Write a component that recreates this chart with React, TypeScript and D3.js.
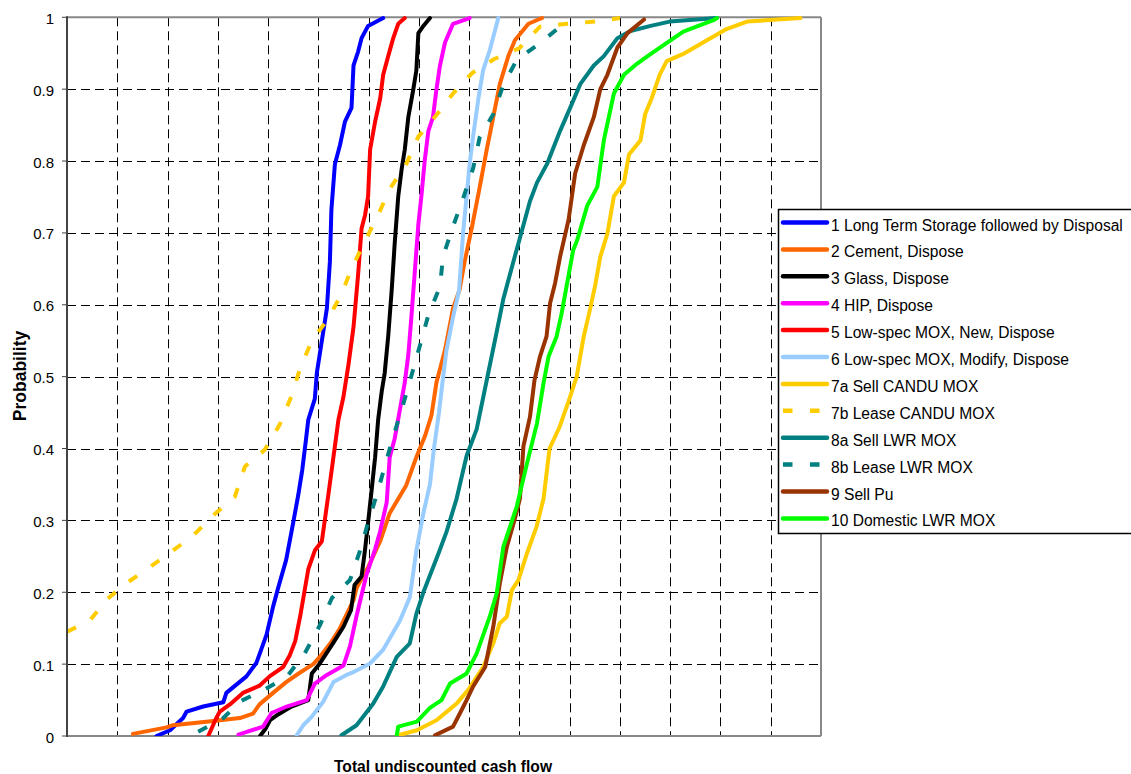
import React from "react";
import * as d3 from "d3";

// x in grid units of "Total undiscounted cash flow" (axis has no labels), y = cumulative probability
const s1: [number, number][] = [[1.78,0],[2.05,0.008],[2.31,0.025],[2.38,0.034],[2.71,0.041],[3.11,0.047],[3.17,0.06],[3.57,0.083],[3.77,0.102],[3.97,0.141],[4.1,0.18],[4.2,0.206],[4.36,0.245],[4.5,0.297],[4.6,0.335],[4.68,0.37],[4.75,0.41],[4.8,0.44],[4.93,0.469],[4.97,0.505],[5.07,0.55],[5.17,0.595],[5.23,0.66],[5.26,0.732],[5.33,0.796],[5.43,0.822],[5.53,0.855],[5.66,0.874],[5.7,0.933],[5.79,0.952],[5.86,0.971],[5.99,0.988],[6.29,0.999]];
const s2: [number, number][] = [[1.31,0.003],[1.98,0.012],[2.11,0.015],[2.91,0.021],[3.44,0.025],[3.7,0.031],[3.83,0.044],[4.1,0.06],[4.36,0.075],[4.63,0.088],[4.9,0.1],[5.03,0.11],[5.25,0.13],[5.43,0.15],[5.7,0.189],[5.76,0.206],[5.99,0.235],[6.23,0.271],[6.42,0.31],[6.75,0.349],[6.95,0.388],[7.12,0.417],[7.25,0.446],[7.35,0.492],[7.52,0.537],[7.68,0.595],[7.81,0.621],[7.91,0.66],[8.05,0.706],[8.2,0.76],[8.35,0.816],[8.48,0.861],[8.61,0.907],[8.78,0.946],[8.91,0.968],[9.18,0.991],[9.45,0.999]];
const s3: [number, number][] = [[3.84,0],[3.95,0.01],[4.04,0.022],[4.2,0.03],[4.44,0.04],[4.8,0.05],[4.87,0.087],[5.03,0.101],[5.3,0.13],[5.5,0.152],[5.65,0.175],[5.72,0.21],[5.86,0.222],[5.93,0.26],[5.99,0.297],[6.06,0.342],[6.13,0.388],[6.19,0.44],[6.26,0.479],[6.32,0.505],[6.39,0.556],[6.46,0.621],[6.52,0.686],[6.59,0.751],[6.66,0.79],[6.72,0.816],[6.79,0.861],[6.89,0.9],[6.95,0.926],[6.99,0.978],[7.09,0.988],[7.22,0.999]];
const s4: [number, number][] = [[3.41,0.002],[3.9,0.013],[4.07,0.032],[4.37,0.041],[4.77,0.05],[4.93,0.073],[5.17,0.085],[5.5,0.098],[5.63,0.125],[5.76,0.167],[5.96,0.225],[6.13,0.26],[6.23,0.285],[6.36,0.325],[6.42,0.388],[6.52,0.414],[6.62,0.453],[6.72,0.492],[6.79,0.53],[6.85,0.582],[6.92,0.647],[6.99,0.712],[7.05,0.751],[7.12,0.803],[7.19,0.842],[7.28,0.861],[7.35,0.9],[7.42,0.933],[7.52,0.965],[7.68,0.991],[8.01,0.999]];
const s5: [number, number][] = [[2.81,0],[2.97,0.025],[3.04,0.034],[3.24,0.044],[3.5,0.06],[3.83,0.07],[4.03,0.083],[4.3,0.096],[4.43,0.112],[4.54,0.132],[4.64,0.167],[4.8,0.232],[4.93,0.258],[5.07,0.271],[5.2,0.336],[5.3,0.388],[5.4,0.44],[5.5,0.472],[5.6,0.517],[5.7,0.569],[5.79,0.641],[5.86,0.706],[5.93,0.725],[5.99,0.751],[6.03,0.816],[6.13,0.855],[6.23,0.887],[6.29,0.92],[6.39,0.946],[6.49,0.971],[6.59,0.991],[6.72,0.999]];
const s6: [number, number][] = [[4.57,0.001],[4.7,0.015],[4.87,0.027],[5.1,0.048],[5.3,0.075],[5.56,0.085],[5.7,0.089],[6.03,0.101],[6.29,0.12],[6.62,0.16],[6.82,0.193],[6.95,0.258],[7.09,0.31],[7.22,0.35],[7.3,0.4],[7.4,0.45],[7.48,0.498],[7.55,0.537],[7.68,0.583],[7.8,0.62],[7.88,0.7],[7.95,0.751],[8.01,0.796],[8.08,0.835],[8.18,0.885],[8.28,0.927],[8.41,0.954],[8.58,0.999]];
const s7a: [number, number][] = [[6.59,0.001],[6.96,0.008],[7.35,0.022],[7.75,0.045],[7.98,0.064],[8.28,0.096],[8.48,0.129],[8.61,0.157],[8.75,0.166],[8.85,0.203],[8.98,0.217],[9.15,0.254],[9.34,0.291],[9.48,0.33],[9.6,0.4],[9.8,0.43],[10.0,0.47],[10.14,0.5],[10.28,0.556],[10.41,0.595],[10.51,0.628],[10.61,0.667],[10.75,0.699],[10.88,0.751],[11.08,0.77],[11.18,0.809],[11.41,0.829],[11.5,0.865],[11.63,0.887],[11.79,0.92],[11.93,0.939],[12.26,0.949],[12.73,0.968],[13.13,0.984],[13.53,0.994],[14.59,0.999]];
const s7b: [number, number][] = [[0,0.145],[0.46,0.161],[0.79,0.19],[1.19,0.213],[1.65,0.235],[2.05,0.255],[2.51,0.279],[2.91,0.307],[3.34,0.333],[3.54,0.375],[3.93,0.398],[4.23,0.433],[4.46,0.472],[4.64,0.512],[4.87,0.55],[5.2,0.581],[5.46,0.615],[5.66,0.65],[5.93,0.689],[6.19,0.725],[6.42,0.761],[6.75,0.796],[6.99,0.834],[7.35,0.864],[7.68,0.894],[8.07,0.923],[8.5,0.942],[9.0,0.957],[9.41,0.987],[9.95,0.991],[10.5,0.994],[11.0,0.999]];
const s8a: [number, number][] = [[5.46,0.001],[5.76,0.015],[6.09,0.045],[6.29,0.069],[6.56,0.11],[6.82,0.129],[6.95,0.17],[7.09,0.2],[7.39,0.254],[7.55,0.284],[7.75,0.33],[7.95,0.39],[8.15,0.427],[8.35,0.495],[8.55,0.563],[8.68,0.608],[8.88,0.66],[9.01,0.693],[9.21,0.744],[9.35,0.77],[9.55,0.796],[9.81,0.842],[10.01,0.874],[10.21,0.907],[10.48,0.933],[10.68,0.946],[10.95,0.971],[11.21,0.981],[11.61,0.988],[11.99,0.994],[12.93,0.999]];
const s8b: [number, number][] = [[2.61,0.006],[3.11,0.025],[3.44,0.048],[3.94,0.065],[4.37,0.082],[4.73,0.115],[5.03,0.154],[5.27,0.192],[5.63,0.217],[5.83,0.258],[5.99,0.297],[6.19,0.342],[6.36,0.385],[6.52,0.423],[6.69,0.462],[6.85,0.501],[7.02,0.543],[7.19,0.586],[7.42,0.625],[7.48,0.667],[7.68,0.709],[7.88,0.748],[8.08,0.79],[8.21,0.833],[8.48,0.865],[8.68,0.906],[8.95,0.941],[9.41,0.964],[9.81,0.987],[9.95,0.997]];
const s9: [number, number][] = [[7.32,0.001],[7.68,0.013],[7.82,0.032],[7.95,0.05],[8.08,0.069],[8.32,0.096],[8.48,0.152],[8.61,0.212],[8.75,0.263],[8.9,0.3],[9.01,0.33],[9.08,0.403],[9.21,0.444],[9.3,0.495],[9.41,0.528],[9.54,0.556],[9.61,0.602],[9.71,0.63],[9.81,0.667],[9.98,0.719],[10.11,0.783],[10.28,0.822],[10.48,0.861],[10.61,0.9],[10.75,0.92],[10.95,0.958],[11.15,0.978],[11.48,0.997]];
const s10: [number, number][] = [[6.56,0.001],[6.59,0.013],[6.96,0.02],[7.22,0.039],[7.45,0.05],[7.62,0.073],[7.95,0.087],[8.15,0.115],[8.41,0.166],[8.55,0.199],[8.68,0.263],[8.95,0.32],[9.15,0.379],[9.35,0.435],[9.48,0.491],[9.58,0.528],[9.74,0.556],[9.84,0.588],[9.95,0.63],[10.07,0.676],[10.15,0.69],[10.35,0.738],[10.55,0.764],[10.68,0.829],[10.88,0.894],[11.08,0.92],[11.35,0.936],[11.53,0.945],[11.86,0.961],[12.26,0.98],[12.86,0.996],[12.93,0.999]];

const seriesNames = [
  "1 Long Term Storage followed by Disposal",
  "2 Cement, Dispose",
  "3 Glass, Dispose",
  "4 HIP, Dispose",
  "5 Low-spec MOX, New, Dispose",
  "6 Low-spec MOX, Modify, Dispose",
  "7a Sell CANDU MOX",
  "7b Lease CANDU MOX",
  "8a Sell LWR MOX",
  "8b Lease LWR MOX",
  "9 Sell Pu",
  "10 Domestic LWR MOX",
];
const seriesData = [s1, s2, s3, s4, s5, s6, s7a, s7b, s8a, s8b, s9, s10];
const seriesColors = ["#0000FF", "#FF6600", "#000000", "#FF00FF", "#FF0000", "#99CCFF", "#FFCC00", "#FFCC00", "#008080", "#008080", "#993300", "#00FF00"];
const seriesDashed = [false, false, false, false, false, false, false, true, false, true, false, false];

const yTickValues = [0, 0.1, 0.2, 0.3, 0.4, 0.5, 0.6, 0.7, 0.8, 0.9, 1];
const yTickLabels = ["0", "0.1", "0.2", "0.3", "0.4", "0.5", "0.6", "0.7", "0.8", "0.9", "1"];
const xGridValues = [1, 2, 3, 4, 5, 6, 7, 8, 9, 10, 11, 12, 13, 14];
const xTitle = "Total undiscounted cash flow";
const yTitle = "Probability";

const W = 1131;
const H = 774;
const FONT = "'Liberation Sans', Arial, sans-serif";

export default function App() {
  const left = 67, right = 821, top = 17.3, bottom = 736;
  const x = d3.scaleLinear().domain([0, 15]).range([left, right]);
  const y = d3.scaleLinear().domain([0, 1]).range([bottom, top]);
  const line = d3.line<[number, number]>().x((d) => x(d[0])).y((d) => y(d[1]));

  const legX = 778.5, legY = 209.5, legH = 324, rowH = 26.9, firstRow = 222.5;

  return (
    <div style={{ position: "absolute", left: 0, top: 0 }}>
      <svg width={W} height={H} style={{ display: "block" }}>
        <defs>
          <clipPath id="plotclip">
            <rect x={left} y={top - 4} width={right - left} height={bottom - top + 4} />
          </clipPath>
        </defs>
        <rect x={0} y={0} width={W} height={H} fill="#fff" />
        {/* gridlines */}
        {yTickValues.filter((v) => v > 0 && v < 1).map((v) => (
          <line key={"gy" + v} x1={left} x2={right} y1={Math.round(y(v)) + 0.5} y2={Math.round(y(v)) + 0.5}
            stroke="#000" strokeWidth={1} strokeDasharray="9 5" />
        ))}
        {xGridValues.map((v) => (
          <line key={"gx" + v} x1={Math.round(x(v)) + 0.5} x2={Math.round(x(v)) + 0.5} y1={top} y2={bottom}
            stroke="#000" strokeWidth={1} strokeDasharray="9 5" />
        ))}
        {/* plot border */}
        <line x1={left} x2={right} y1={top} y2={top} stroke="#888" strokeWidth={2} />
        <line x1={right} x2={right} y1={top} y2={bottom} stroke="#888" strokeWidth={2} />
        <line x1={left} x2={right} y1={bottom} y2={bottom} stroke="#888" strokeWidth={2} />
        {/* series */}
        <g clipPath="url(#plotclip)">
          {seriesData.map((d, i) => (
            <path key={"s" + i} d={line(d) || ""} fill="none" stroke={seriesColors[i]}
              strokeWidth={4} strokeLinejoin="round"
              strokeLinecap={seriesDashed[i] ? "butt" : "round"}
              strokeDasharray={seriesDashed[i] ? "10 17" : undefined} />
          ))}
        </g>
        {/* y axis */}
        <line x1={left} x2={left} y1={top - 1} y2={bottom + 1} stroke="#444" strokeWidth={2} />
        {yTickValues.map((v, i) => (
          <g key={"yt" + v}>
            <line x1={left - 5} x2={left} y1={y(v)} y2={y(v)} stroke="#444" strokeWidth={1} />
            <text x={54} y={y(v) + 6.5} textAnchor="end" fontFamily={FONT} fontSize={15} fill="#000">
              {yTickLabels[i]}
            </text>
          </g>
        ))}
        <text transform={`translate(26,376) rotate(-90)`} textAnchor="middle" fontFamily={FONT}
          fontSize={17.5} fontWeight="bold" fill="#000">{yTitle}</text>
        <text x={443} y={772} textAnchor="middle" fontFamily={FONT} fontSize={15.6} fontWeight="bold" fill="#000">
          {xTitle}
        </text>
        {/* legend */}
        <rect x={legX} y={legY} width={W - legX + 10} height={legH} fill="#fff" stroke="#000" strokeWidth={1.5} />
        {seriesNames.map((name, i) => {
          const cy = firstRow + i * rowH;
          return (
            <g key={"lg" + i}>
              {seriesDashed[i] ? (
                <line x1={783} x2={820} y1={cy} y2={cy} stroke={seriesColors[i]} strokeWidth={4.5}
                  strokeDasharray="9.5 17.5" />
              ) : (
                <line x1={783} x2={827} y1={cy} y2={cy} stroke={seriesColors[i]} strokeWidth={4.5}
                  strokeLinecap="round" />
              )}
              <text x={831} y={cy + 8} fontFamily={FONT} fontSize={15.6} fill="#000">{name}</text>
            </g>
          );
        })}
      </svg>
    </div>
  );
}
